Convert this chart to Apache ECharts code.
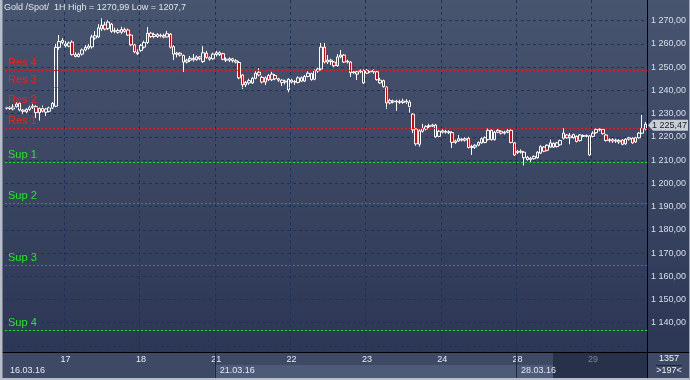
<!DOCTYPE html>
<html><head><meta charset="utf-8">
<script src="https://cdn.jsdelivr.net/npm/echarts@6/dist/echarts.min.js"></script>
<style>html,body{margin:0;padding:0;background:#2f3a56}#c{width:690px;height:380px}</style>
</head><body><div id="c"></div>
<script>
// ---- data ----
const titleText = 'Gold /Spot/  1H High = 1270,99 Low = 1207,7';
const dayNames = ['16','17','18','21','22','23','24','28','29'];
// [open, close, low, high]
const candles16 = [
[1232.3,1232.6,1231.8,1233.0],[1232.5,1232.2,1231.6,1233.2],[1232.0,1232.8,1231.4,1234.0],[1233.0,1234.1,1232.6,1234.8],
[1234.5,1231.6,1231.0,1235.0],[1231.5,1231.0,1229.8,1232.0],[1230.8,1231.8,1230.2,1232.3],[1231.8,1232.6,1231.2,1233.4],
[1232.6,1233.2,1232.0,1234.2],[1233.0,1230.4,1228.1,1233.6],[1230.4,1232.2,1227.0,1232.6],[1232.2,1231.0,1230.5,1233.5],
[1230.6,1232.0,1229.0,1232.4],[1231.0,1232.5,1230.5,1233.0],[1232.4,1234.4,1232.0,1235.0],[1233.2,1258.5,1232.8,1260.0],
[1258.5,1261.0,1257.5,1263.8],[1260.6,1261.5,1259.8,1262.5]];
const candles17 = [
[1259.2,1260.0,1258.5,1261.2],[1259.0,1260.4,1258.6,1261.0],[1260.8,1255.4,1255.0,1261.5],[1255.4,1254.6,1254.2,1256.4],
[1254.6,1255.6,1254.2,1256.2],[1255.6,1257.4,1255.0,1258.0],[1257.4,1258.5,1256.8,1259.6],[1258.2,1259.0,1257.6,1260.0],
[1258.7,1263.0,1258.0,1264.0],[1262.5,1263.5,1261.8,1265.5],[1263.0,1266.9,1262.6,1268.5],[1266.5,1268.0,1265.6,1270.99],
[1268.2,1266.4,1265.8,1269.5],[1266.6,1269.4,1266.0,1270.2],[1268.5,1265.4,1264.8,1269.0],[1265.4,1265.8,1264.6,1267.0],
[1265.8,1265.0,1264.4,1266.6],[1265.0,1266.2,1264.2,1267.4],[1266.2,1265.4,1264.8,1267.0],[1266.0,1263.8,1263.4,1266.6],
[1263.8,1259.6,1259.0,1264.2],[1259.6,1256.6,1256.0,1260.0],[1256.4,1255.8,1255.2,1257.6]];
const candles18 = [
[1257.2,1259.4,1256.6,1260.0],[1258.6,1260.6,1258.0,1261.4],[1260.6,1264.6,1260.0,1267.3],[1264.6,1263.2,1262.6,1265.2],
[1263.2,1264.0,1262.4,1264.8],[1264.0,1263.2,1262.6,1264.6],[1263.4,1263.8,1262.8,1264.4],[1263.6,1263.0,1262.4,1264.4],
[1263.0,1264.4,1262.8,1265.6],[1264.2,1258.6,1258.0,1264.6],[1258.8,1255.6,1253.1,1259.4],[1255.6,1256.0,1254.2,1256.6],
[1256.0,1255.2,1254.6,1256.4],[1255.0,1252.2,1247.9,1255.4],[1252.2,1253.0,1251.6,1253.6],[1253.0,1253.8,1252.2,1254.8],
[1253.8,1253.2,1252.4,1255.6],[1253.2,1254.4,1252.8,1255.0],[1254.4,1253.6,1253.0,1254.8],[1252.4,1256.2,1251.8,1259.1],
[1256.0,1254.2,1253.6,1257.0],[1254.0,1253.4,1252.8,1254.6],[1253.6,1255.6,1253.2,1256.2]];
const candles21 = [
[1255.4,1256.2,1254.6,1257.0],[1256.2,1255.4,1254.8,1256.8],[1255.8,1253.4,1253.0,1256.2],[1253.4,1253.0,1252.2,1254.2],
[1253.0,1253.6,1252.2,1254.2],[1253.6,1252.8,1252.0,1254.0],[1252.8,1252.2,1251.6,1253.4],[1252.0,1245.4,1244.8,1252.6],
[1246.6,1242.4,1240.6,1247.0],[1242.4,1243.4,1241.4,1244.0],[1243.2,1244.2,1242.4,1245.0],[1243.2,1245.2,1242.8,1245.8],
[1245.2,1247.4,1244.8,1248.2],[1247.8,1246.6,1246.0,1249.6],[1245.6,1243.6,1243.0,1246.2],[1243.6,1245.4,1242.3,1246.0],
[1246.4,1244.6,1244.0,1247.0],[1244.6,1247.0,1244.0,1248.0],[1246.4,1245.0,1244.4,1247.0],[1245.0,1244.4,1243.6,1245.4],
[1244.4,1243.4,1241.9,1244.8],[1243.6,1244.0,1242.6,1244.6],[1240.2,1244.8,1239.2,1245.2]];
const candles22 = [
[1244.4,1243.6,1243.0,1245.0],[1243.6,1243.8,1242.4,1244.4],[1243.4,1245.4,1243.0,1246.0],[1245.4,1244.0,1243.6,1246.0],
[1244.0,1246.0,1243.6,1246.6],[1246.0,1247.4,1245.6,1248.2],[1247.2,1244.6,1244.2,1247.6],[1244.8,1248.6,1244.4,1249.0],
[1248.4,1249.2,1247.6,1249.8],[1249.2,1258.6,1248.6,1260.4],[1258.6,1252.2,1251.6,1260.4],[1252.2,1253.0,1251.4,1255.2],
[1253.0,1252.4,1251.0,1253.6],[1252.2,1250.6,1250.0,1252.6],[1250.6,1254.4,1250.2,1255.6],[1254.4,1255.2,1253.8,1257.4],
[1255.2,1252.2,1251.8,1255.6],[1252.2,1252.6,1251.6,1253.2],[1252.2,1247.6,1245.8,1252.6],[1247.6,1247.9,1247.2,1248.4],
[1247.0,1248.0,1244.5,1248.4],[1248.0,1248.6,1247.4,1249.0],[1248.6,1243.2,1242.8,1249.0]];
const candles23 = [
[1247.4,1248.6,1247.0,1249.2],[1248.4,1248.0,1247.6,1248.8],[1248.0,1248.6,1247.2,1249.0],[1248.0,1244.6,1244.2,1248.4],
[1243.2,1244.4,1242.8,1245.4],[1244.2,1241.6,1241.2,1244.6],[1241.4,1234.6,1232.0,1241.8],[1234.6,1235.6,1234.0,1236.4],
[1235.4,1235.0,1234.4,1236.0],[1235.0,1235.4,1231.2,1236.0],[1235.2,1234.8,1234.2,1236.0],[1234.8,1235.4,1234.2,1236.4],
[1235.4,1235.0,1234.2,1236.2],[1235.0,1233.0,1230.4,1235.8],[1229.8,1223.0,1221.6,1230.2],[1223.4,1217.0,1216.2,1223.8],
[1216.8,1222.6,1215.8,1223.2],[1222.4,1223.6,1221.8,1225.6],[1223.4,1224.4,1222.8,1225.0],[1224.4,1224.8,1223.8,1225.6],
[1224.6,1225.1,1224.2,1225.6],[1225.1,1220.0,1219.6,1225.6],[1220.2,1222.4,1219.8,1223.0]];
const candles24 = [
[1222.6,1222.0,1221.4,1223.2],[1222.0,1222.4,1221.4,1223.0],[1222.2,1221.8,1221.2,1222.8],[1221.8,1217.6,1215.2,1222.4],
[1217.6,1218.2,1217.0,1218.8],[1218.2,1219.2,1217.8,1220.8],[1219.0,1218.6,1218.0,1219.6],[1218.6,1219.2,1218.0,1219.8],
[1219.4,1215.4,1215.0,1220.0],[1215.4,1215.8,1212.2,1216.6],[1215.6,1216.4,1214.8,1216.8],[1216.4,1217.6,1216.0,1218.0],
[1217.4,1219.2,1217.0,1219.8],[1217.6,1219.6,1217.2,1220.2],[1218.8,1222.8,1218.4,1223.6],[1222.8,1218.8,1218.4,1223.2],
[1218.8,1222.0,1218.4,1222.6],[1222.0,1222.8,1221.6,1223.4],[1222.4,1221.6,1221.0,1222.8],[1221.6,1222.0,1221.0,1222.6],
[1222.0,1222.6,1221.6,1223.4],[1222.8,1217.6,1217.2,1223.2],[1217.4,1212.2,1211.8,1217.8]];
const candles28 = [
[1213.2,1213.8,1212.6,1214.4],[1213.8,1213.4,1212.8,1214.6],[1211.0,1213.4,1207.7,1213.8],[1211.2,1210.2,1209.8,1211.8],
[1210.2,1210.8,1209.2,1211.4],[1210.6,1211.6,1210.2,1212.0],[1211.0,1213.4,1210.6,1213.8],[1213.0,1215.8,1212.6,1216.4],
[1215.6,1213.8,1213.4,1216.0],[1214.2,1216.4,1213.8,1216.8],[1215.6,1217.4,1215.2,1218.8],[1217.2,1215.6,1215.2,1217.6],
[1215.8,1217.4,1215.4,1217.8],[1216.6,1218.4,1216.2,1218.8],[1219.4,1221.6,1218.8,1223.8],[1220.8,1219.6,1219.2,1221.2],
[1219.6,1220.4,1216.8,1221.6],[1221.0,1219.6,1219.2,1221.4],[1220.2,1218.0,1217.6,1220.6],[1218.4,1220.8,1218.0,1221.2],
[1220.6,1220.2,1219.8,1221.0],[1220.2,1220.6,1219.8,1221.0],[1220.4,1212.2,1211.8,1220.8]];
const candles29 = [
[1220.2,1221.6,1219.8,1222.4],[1221.8,1223.2,1221.4,1223.6],[1223.0,1223.4,1222.4,1223.8],[1223.2,1221.4,1221.0,1223.6],
[1220.8,1218.4,1218.0,1221.2],[1218.4,1218.8,1217.6,1219.4],[1218.8,1218.2,1217.4,1219.4],[1218.2,1218.6,1217.4,1219.2],
[1218.4,1217.8,1217.0,1219.0],[1218.6,1216.8,1216.4,1219.0],[1217.0,1219.0,1216.6,1219.4],[1219.0,1219.6,1218.4,1220.0],
[1219.4,1217.4,1217.0,1219.8],[1217.8,1219.6,1217.4,1220.0],[1219.6,1221.6,1219.2,1222.0],[1221.6,1223.6,1221.2,1229.4],
[1223.4,1225.47,1222.8,1226.4]];
const resNames = ['Res 4','Res 3','Res 2','Res 1'];
const resValues = [1248.5, 1241.3, 1232.7, 1223.7];
const supNames = ['Sup 1','Sup 2','Sup 3','Sup 4'];
const supValues = [1209.0, 1191.4, 1164.7, 1136.7];
const weekLabels = ['16.03.16','21.03.16','28.03.16'];
const weekDays = ['16','21','28'];
const lastPrice = 1225.47;
const barCountLabels = ['1357','>197<'];

// ---- build ----
const dayCandles = [candles16,candles17,candles18,candles21,candles22,candles23,candles24,candles28,candles29];
const categories = [], data = [], dayStart = [];
dayCandles.forEach((arr, d) => {
  dayStart.push(categories.length);
  arr.forEach((c, k) => { categories.push(dayNames[d] + '.03 h' + k); data.push(c); });
});
const labelIdx = dayStart.slice(1);
function fmtPrice(v){
  const s = v.toFixed(2).split('.');
  return s[0].replace(/\B(?=(\d{3})+(?!\d))/g, ' ') + ',' + s[1];
}
const FONT = '"Liberation Sans", Arial, sans-serif';
const levelLabel = (color) => ({ show: true, position: 'insideStartTop', formatter: '{b}', color: color,
  fontSize: 11, fontFamily: FONT, distance: [3, 2], textBorderWidth: 0, textBorderColor: 'transparent',
  textShadowBlur: 0, textShadowColor: 'transparent', opacity: 1 });
const markData = [];
resNames.forEach((n, i) => {
  const strong = (n === 'Res 4' || n === 'Res 1');
  markData.push({ name: n, yAxis: resValues[i],
    lineStyle: { color: strong ? 'rgba(255,16,16,0.95)' : 'rgba(230,16,16,0.55)', type: [2, 2], width: 1 },
    label: levelLabel('#ff1a1a') });
});
supNames.forEach((n, i) => {
  const strong = (n === 'Sup 1' || n === 'Sup 4');
  markData.push({ name: n, yAxis: supValues[i],
    lineStyle: { color: strong ? 'rgba(16,240,16,0.95)' : 'rgba(16,230,16,0.55)', type: [2, 2], width: 1 },
    label: levelLabel('#22e822') });
});

const chart = echarts.init(document.getElementById('c'), null, { renderer: 'canvas' });
const option = {
  animation: false,
  backgroundColor: { type: 'linear', x: 0, y: 0, x2: 0, y2: 1,
    colorStops: [{ offset: 0, color: '#48556f' }, { offset: 1, color: '#2a3453' }] },
  grid: { left: 5, right: 43, top: 0, bottom: 28 },
  xAxis: {
    type: 'category', data: categories, boundaryGap: true,
    axisLine: { show: true, lineStyle: { color: '#000', width: 1 } },
    axisTick: { show: false },
    axisLabel: {
      interval: (i) => labelIdx.indexOf(i) >= 0,
      formatter: (v) => v.split('.')[0],
      color: (v) => (String(v).indexOf('29') === 0 ? '#7a859b' : '#e6ebf4'),
      fontSize: 9, fontFamily: FONT, margin: 3
    },
    splitLine: { show: false }
  },
  yAxis: {
    type: 'value', position: 'right', min: 1127.4, max: 1278.9, splitNumber: 15, scale: true,
    axisLine: { show: true, lineStyle: { color: '#000', width: 1 } },
    axisTick: { show: false },
    axisLabel: { showMinLabel: false, showMaxLabel: false,
      formatter: (v) => (Math.abs(v % 10) < 1e-6 && v >= 1140 && v <= 1270) ? fmtPrice(v) : '',
      color: '#d9dfe9', fontSize: 9, fontFamily: FONT, margin: 4 },
    splitLine: { show: true, showMinLine: false, showMaxLine: false,
      lineStyle: { color: '#1d3159', type: [3, 3], width: 1 } }
  },
  series: [{
    type: 'candlestick', data: data, barWidth: 3,
    itemStyle: { color: 'rgba(0,0,0,0)', color0: '#e00000', borderColor: '#ffffff', borderColor0: '#ffffff', borderWidth: 1 },
    markLine: { symbol: ['none', 'none'], silent: true, animation: false, data: markData }
  }]
};
chart.setOption(option);

// ---- overlays positioned through the scales ----
const band = chart.convertToPixel({ xAxisIndex: 0 }, 1) - chart.convertToPixel({ xAxisIndex: 0 }, 0);
const edgeX = (idx) => chart.convertToPixel({ xAxisIndex: 0 }, idx) - band / 2;
const weekX = weekDays.map(d => edgeX(dayStart[dayNames.indexOf(d)]));
const py = chart.convertToPixel({ yAxisIndex: 0 }, lastPrice);
const g = [];
// day separators (vertical grid)
labelIdx.forEach(i => {
  const x = Math.round(edgeX(i)) + 0.5;
  g.push({ type: 'line', z: -1, shape: { x1: x, y1: 0, x2: x, y2: 352 }, style: { stroke: '#1d3159', lineWidth: 1, lineDash: [3, 3] } });
});
g.push({ type: 'rect', z: -1, shape: { x: 2, y: 352, width: 646, height: 26 }, style: { fill: '#3e4a65' } });
g.push({ type: 'rect', z: -1, shape: { x: weekX[1], y: 365, width: 553 - weekX[1], height: 13 }, style: { fill: '#4e5b78' } });
g.push({ type: 'rect', z: -1, shape: { x: 553, y: 353, width: 94, height: 25 }, style: { fill: '#27314a' } });
g.push({ type: 'line', z: 1, shape: { x1: Math.round(weekX[1]) + 0.5, y1: 352, x2: Math.round(weekX[1]) + 0.5, y2: 378 }, style: { stroke: '#1c2740', lineWidth: 1 } });
g.push({ type: 'line', z: 1, shape: { x1: Math.round(weekX[2]) + 0.5, y1: 352, x2: Math.round(weekX[2]) + 0.5, y2: 378 }, style: { stroke: '#1c2740', lineWidth: 1 } });
weekLabels.forEach((t, i) => g.push({ type: 'text', z: 5, style: { text: t, x: weekX[i] + 5, y: 371, fill: '#e2e7f0', font: '9px ' + FONT, textVerticalAlign: 'middle' } }));
// right bottom panel
g.push({ type: 'rect', z: -1, shape: { x: 648, y: 352, width: 41, height: 26 }, style: { fill: '#3e4a65' } });
g.push({ type: 'line', z: 1, shape: { x1: 656, y1: 365.5, x2: 682, y2: 365.5 }, style: { stroke: '#1c2740', lineWidth: 1 } });
g.push({ type: 'text', z: 5, style: { text: barCountLabels[0], x: 669, y: 359, fill: '#eef1f6', font: '9px ' + FONT, textAlign: 'center', textVerticalAlign: 'middle' } });
g.push({ type: 'text', z: 5, style: { text: barCountLabels[1], x: 669, y: 371, fill: '#eef1f6', font: '9px ' + FONT, textAlign: 'center', textVerticalAlign: 'middle' } });
// frame lines
g.push({ type: 'line', z: 6, shape: { x1: 2, y1: 352.5, x2: 689, y2: 352.5 }, style: { stroke: '#000', lineWidth: 1 } });
g.push({ type: 'line', z: 6, shape: { x1: 647.5, y1: 0, x2: 647.5, y2: 378 }, style: { stroke: '#000', lineWidth: 1 } });
g.push({ type: 'rect', z: 7, shape: { x: 0, y: 0, width: 2.5, height: 380 }, style: { fill: '#b7bdc9' } });
g.push({ type: 'rect', z: 7, shape: { x: 0, y: 378, width: 690, height: 2 }, style: { fill: '#b7bdc9' } });
g.push({ type: 'rect', z: 7, shape: { x: 689, y: 0, width: 1, height: 380 }, style: { fill: '#9ea5b3' } });
// title
g.push({ type: 'text', z: 8, style: { text: titleText, x: 4, y: 7.5, fill: '#dfe4ee', font: '9px ' + FONT, textVerticalAlign: 'middle' } });
// current price tag
g.push({ type: 'polygon', z: 8, shape: { points: [[648, py + 1], [653, py - 4.5], [688, py - 4.5], [688, py + 6.5], [653, py + 6.5]] }, style: { fill: '#c8cdd6' } });
g.push({ type: 'text', z: 9, style: { text: fmtPrice(lastPrice), x: 652, y: py + 1, fill: '#1b1e24', font: '9px ' + FONT, textVerticalAlign: 'middle' } });
chart.setOption({ graphic: g });
</script></body></html>
